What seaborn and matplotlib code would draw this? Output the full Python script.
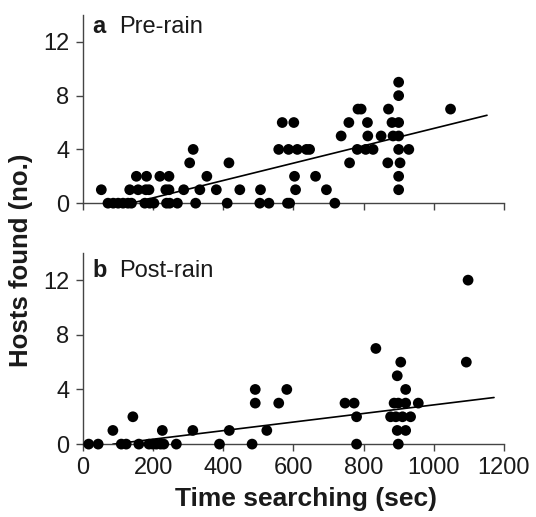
import numpy as np
import pandas as pd
import matplotlib
matplotlib.use("Agg")
import matplotlib.pyplot as plt
import seaborn as sns

# Pre-rain (panel a): time searching (sec) and hosts found
pre_time = [71, 86, 100, 114, 128, 138, 176, 190, 202, 238, 247, 269, 321, 411, 504, 530, 583, 589, 718,
            52, 133, 157, 179, 188, 236, 245, 287, 333, 380, 447, 506, 606, 694, 900,
            152, 181, 219, 245, 353, 603, 663, 900,
            304, 416, 760, 869, 904,
            314, 558, 586, 611, 637, 646, 782, 806, 827, 900, 929,
            736, 812, 850, 884, 900,
            568, 601, 758, 811, 881, 900,
            784, 793, 871, 1048,
            900, 900]
pre_hosts = [0] * 19 + [1] * 15 + [2] * 8 + [3] * 5 + [4] * 11 + [5] * 5 + [6] * 6 + [7] * 4 + [8, 9]

# Post-rain (panel b)
post_time = [16, 43, 109, 123, 159, 188, 199, 209, 221, 230, 266, 389, 482, 780, 899,
             85, 226, 313, 417, 524, 896, 920,
             142, 780, 877, 892, 911, 934,
             491, 558, 747, 773, 887, 899, 920, 956,
             491, 581, 920,
             896,
             906, 1093,
             835,
             1098]
post_hosts = [0] * 15 + [1] * 7 + [2] * 6 + [3] * 8 + [4] * 3 + [5] + [6] * 2 + [7] + [12]

# fitted regression lines
pre_fit = {"slope": 0.00645, "intercept": -0.89, "x0": 138, "x1": 1152}
post_fit = {"slope": 0.00314, "intercept": -0.27, "x0": 85, "x1": 1172}

panel_letters = ["a", "b"]
panel_titles = ["Pre-rain", "Post-rain"]
x_ticks = [0, 200, 400, 600, 800, 1000, 1200]
y_ticks = [0, 4, 8, 12]

sns.set_style("ticks")
plt.rcParams['font.family'] = ['Liberation Sans', 'DejaVu Sans']

fig = plt.figure(figsize=(5.36, 5.17), dpi=100)
ax_a = fig.add_axes([0.155, 0.607, 0.785, 0.364])
ax_b = fig.add_axes([0.155, 0.141, 0.785, 0.370])

datasets = [(pre_time, pre_hosts, pre_fit), (post_time, post_hosts, post_fit)]
label_y = [0.936, 0.4636]

for i, (ax, (tx, hy, fit)) in enumerate(zip([ax_a, ax_b], datasets)):
    df = pd.DataFrame({"time": tx, "hosts": hy})
    sns.scatterplot(data=df, x="time", y="hosts", ax=ax, color="black",
                    s=60, edgecolor="none", zorder=3, clip_on=False)

    line_x = np.array([fit["x0"], fit["x1"]])
    line_df = pd.DataFrame({"time": line_x, "hosts": fit["slope"] * line_x + fit["intercept"]})
    sns.lineplot(data=line_df, x="time", y="hosts", ax=ax, color="black", linewidth=1.2, zorder=2)

    ax.set_xlim(0, 1200)
    ax.set_ylim(0, 14)
    ax.set_xticks(x_ticks)
    ax.set_yticks(y_ticks)
    ax.set_xlabel("")
    ax.set_ylabel("")
    for side in ["top", "right"]:
        ax.spines[side].set_visible(False)
    for side in ["left", "bottom"]:
        ax.spines[side].set_color("#444444")
        ax.spines[side].set_linewidth(1.0)
    ax.tick_params(axis="both", labelsize=17, length=5, color="#444444", width=1.0,
                   labelcolor="#1a1a1a")
    ax.tick_params(axis="y", pad=5)
    ax.tick_params(axis="x", pad=4)

    fig.text(0.173, label_y[i], panel_letters[i], fontsize=17,
             fontweight="bold", va="baseline", ha="left", color="#1a1a1a")
    fig.text(0.222, label_y[i], panel_titles[i], fontsize=17,
             va="baseline", ha="left", color="#1a1a1a")

ax_a.tick_params(axis="x", labelbottom=False)
fig.text(0.57, 0.012, "Time searching (sec)", fontsize=19, fontweight="bold",
         va="bottom", ha="center", color="#1a1a1a")
fig.text(0.04, 0.497, "Hosts found (no.)", rotation=90, fontsize=18.5,
         fontweight="bold", va="center", ha="center", color="#1a1a1a")

plt.savefig("out.png", dpi=100)
